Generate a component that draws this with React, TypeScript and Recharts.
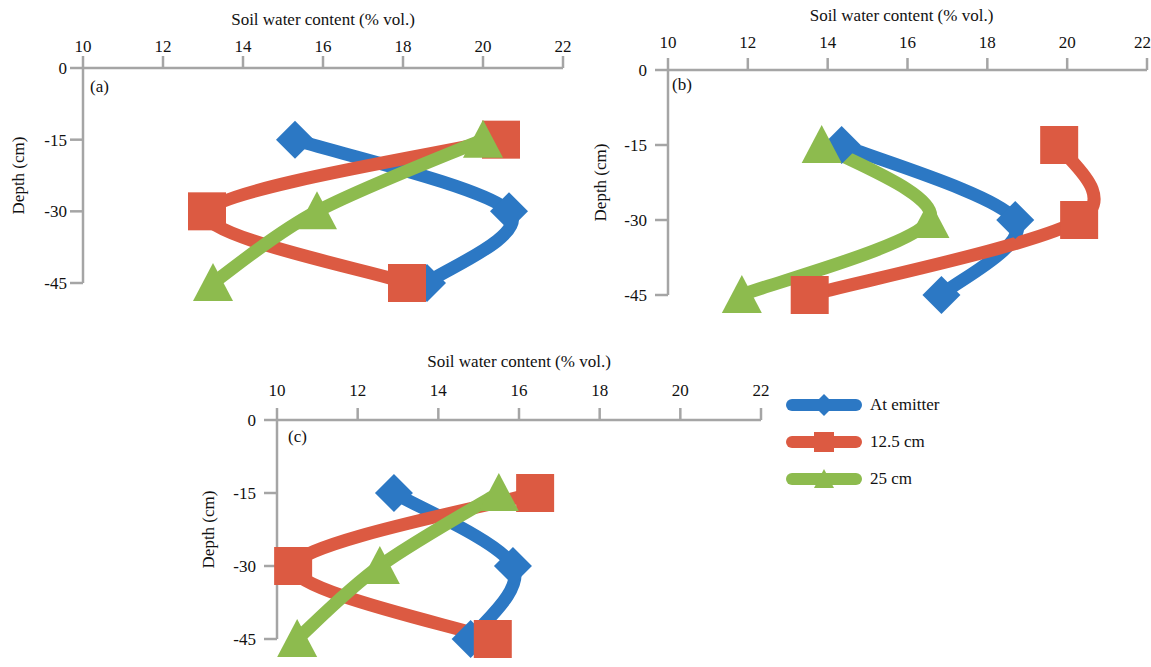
import React from 'react';
import { LineChart, Line, XAxis, YAxis, Legend } from 'recharts';

const depths = [-15, -30, -45];
const xTicks = [10, 12, 14, 16, 18, 20, 22];
const yTicks = [0, -15, -30, -45];
const seriesNames = ['At emitter', '12.5 cm', '25 cm'];

// (a)
const aEmitter = [15.3, 20.65, 18.6];
const aMid = [20.45, 13.1, 18.1];
const aFar = [20.0, 15.85, 13.25];
// (b)
const bEmitter = [14.35, 18.7, 16.85];
const bMid = [19.8, 20.3, 13.55];
const bFar = [13.85, 16.55, 11.85];
// (c)
const cEmitter = [12.9, 15.85, 14.8];
const cMid = [16.4, 10.4, 15.35];
const cFar = [15.5, 12.55, 10.5];

const BLUE = '#2c78c4';
const RED = '#dc5a42';
const GREEN = '#8dbb4e';
const AXIS = '#a5a5a5';
const FONT = "'Liberation Serif', 'DejaVu Serif', serif";

const shapes = ['diamond', 'square', 'triangle'];
const colors = [BLUE, RED, GREEN];

// spreadsheet-style smoothed line (cardinal spline through the points)
function smoothCurve(context: any) {
  let pts: number[][] = [];
  return {
    areaStart() {},
    areaEnd() {},
    lineStart() {
      pts = [];
    },
    lineEnd() {
      if (!pts.length) return;
      context.moveTo(pts[0][0], pts[0][1]);
      const t = 1 / 6;
      for (let i = 0; i < pts.length - 1; i++) {
        const p0 = pts[i - 1] || pts[i];
        const p1 = pts[i];
        const p2 = pts[i + 1];
        const p3 = pts[i + 2] || p2;
        context.bezierCurveTo(
          p1[0] + (p2[0] - p0[0]) * t,
          p1[1] + (p2[1] - p0[1]) * t,
          p2[0] - (p3[0] - p1[0]) * t,
          p2[1] - (p3[1] - p1[1]) * t,
          p2[0],
          p2[1],
        );
      }
    },
    point(x: number, y: number) {
      pts.push([+x, +y]);
    },
  };
}

function Marker({ cx, cy, shape, color, size }: any) {
  const h = size / 2;
  if (shape === 'square') {
    return <rect x={cx - h} y={cy - h} width={size} height={size} fill={color} />;
  }
  if (shape === 'diamond') {
    return (
      <polygon
        points={`${cx},${cy - h} ${cx + h},${cy} ${cx},${cy + h} ${cx - h},${cy}`}
        fill={color}
      />
    );
  }
  return (
    <polygon
      points={`${cx},${cy - h} ${cx + h},${cy + h * 0.9} ${cx - h},${cy + h * 0.9}`}
      fill={color}
    />
  );
}

function renderLegend() {
  return (
    <div style={{ display: 'flex', flexDirection: 'column', gap: 7 }}>
      {seriesNames.map((name, i) => (
        <div key={name} style={{ display: 'flex', alignItems: 'center', height: 30 }}>
          <svg width={76} height={30}>
            <line x1={6} y1={15} x2={70} y2={15} stroke={colors[i]} strokeWidth={12} strokeLinecap="round" />
            <Marker cx={38} cy={15} shape={shapes[i]} color={colors[i]} size={i === 0 ? 22 : 20} />
          </svg>
          <span style={{ marginLeft: 8, fontSize: 17, fontFamily: FONT, color: '#111' }}>{name}</span>
        </div>
      ))}
    </div>
  );
}

type PanelProps = {
  tag: string;
  left: number;
  top: number;
  width: number;
  height: number;
  margin: { top: number; left: number; right: number; bottom: number };
  emitter: number[];
  mid: number[];
  far: number[];
  titleOffset: number;
  titleDx?: number;
  depthOffset: number;
  xTickMargin: number;
  yTickMargin: number;
  tagPos: { x: number; y: number };
  legend?: boolean;
};

function Panel(p: PanelProps) {
  const rows = depths.map((d, i) => ({ depth: d, emitter: p.emitter[i], mid: p.mid[i], far: p.far[i] }));
  const keys = ['emitter', 'mid', 'far'];
  const tickStyle = { fill: '#111', fontSize: 17, fontFamily: FONT };
  return (
    <div style={{ position: 'absolute', left: p.left, top: p.top, width: p.width, height: p.height }}>
      <LineChart layout="vertical" width={p.width} height={p.height} data={rows} margin={p.margin}>
        <XAxis
          type="number"
          orientation="top"
          domain={[10, 22]}
          ticks={xTicks}
          height={30}
          stroke={AXIS}
          strokeWidth={2.5}
          tickSize={12}
          tickMargin={p.xTickMargin}
          tick={tickStyle}
          label={{ value: 'Soil water content (% vol.)', position: 'top', offset: p.titleOffset, dx: p.titleDx || 0, fill: '#111', fontSize: 17, fontFamily: FONT }}
        />
        <YAxis
          type="number"
          dataKey="depth"
          domain={[-45, 0]}
          reversed
          ticks={yTicks}
          width={60}
          stroke={AXIS}
          strokeWidth={2.5}
          tickSize={13}
          tickMargin={p.yTickMargin}
          tick={tickStyle}
          label={{ value: 'Depth (cm)', angle: -90, position: 'insideLeft', offset: p.depthOffset, fill: '#111', fontSize: 17, fontFamily: FONT, style: { textAnchor: 'middle' } }}
        />
        {keys.map((k, i) => (
          <Line
            key={k}
            dataKey={k}
            name={seriesNames[i]}
            type={smoothCurve as any}
            stroke={colors[i]}
            strokeWidth={13}
            strokeLinejoin="round"
            isAnimationActive={false}
            dot={(d: any) => (
              <Marker key={`${k}-${d.index}`} cx={d.cx} cy={d.cy} shape={shapes[i]} color={colors[i]} size={shapes[i] === 'triangle' ? 40 : 38} />
            )}
            activeDot={false}
          />
        ))}
        {p.legend && (
          <Legend
            layout="vertical"
            align="center"
            verticalAlign="middle"
            content={renderLegend}
            wrapperStyle={{ left: 596, top: 50, width: 200 }}
          />
        )}
      </LineChart>
      <div style={{ position: 'absolute', left: p.tagPos.x, top: p.tagPos.y, fontSize: 17, lineHeight: '17px', fontFamily: FONT, color: '#111' }}>
        {p.tag}
      </div>
    </div>
  );
}

export default function App() {
  return (
    <div style={{ position: 'absolute', left: 0, top: 0, width: 1151, height: 667, background: '#fff', overflow: 'hidden' }}>
      <Panel
        tag="(a)"
        left={0}
        top={0}
        width={580}
        height={330}
        margin={{ top: 38, left: 23, right: 17, bottom: 47 }}
        emitter={aEmitter}
        mid={aMid}
        far={aFar}
        titleOffset={13}
        depthOffset={-5}
        xTickMargin={4}
        yTickMargin={3}
        tagPos={{ x: 90, y: 78 }}
      />
      <Panel
        tag="(b)"
        left={580}
        top={0}
        width={571}
        height={330}
        margin={{ top: 40, left: 28, right: 4, bottom: 35 }}
        emitter={bEmitter}
        mid={bMid}
        far={bFar}
        titleOffset={19}
        titleDx={-6}
        depthOffset={-8}
        xTickMargin={10}
        yTickMargin={8}
        tagPos={{ x: 92, y: 76 }}
      />
      <Panel
        tag="(c)"
        left={190}
        top={340}
        width={780}
        height={327}
        margin={{ top: 50, left: 27, right: 209, bottom: 28 }}
        emitter={cEmitter}
        mid={cMid}
        far={cFar}
        titleOffset={23}
        depthOffset={-9}
        xTickMargin={12}
        yTickMargin={8}
        tagPos={{ x: 98, y: 88 }}
        legend
      />
    </div>
  );
}
